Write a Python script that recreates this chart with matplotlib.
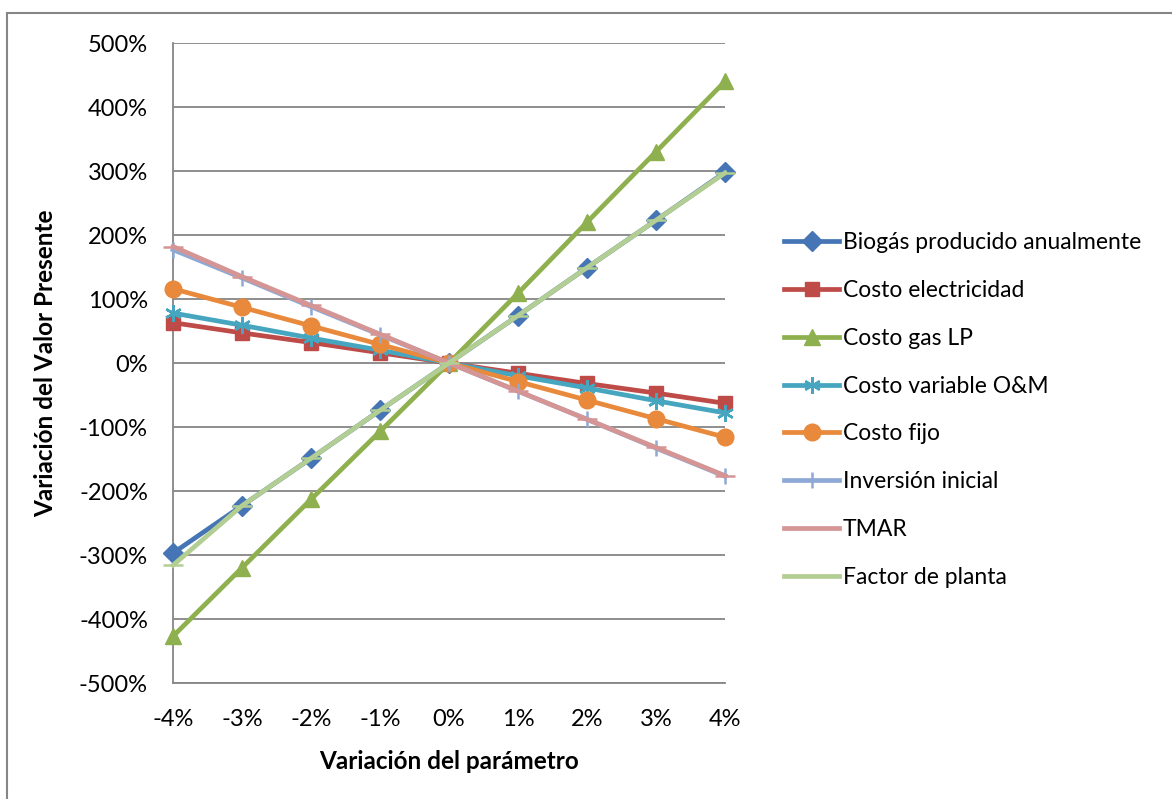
import matplotlib
matplotlib.use('Agg')
import matplotlib.pyplot as plt
from matplotlib.patches import Rectangle
from matplotlib.ticker import FuncFormatter

# variación del parámetro (%)
params = [-4, -3, -2, -1, 0, 1, 2, 3, 4]
param_labels = ['-4%', '-3%', '-2%', '-1%', '0%', '1%', '2%', '3%', '4%']

# variación del valor presente (%)
biogas = [-297, -223, -149, -74, 0, 74, 149, 223, 298]
electricidad = [63, 47, 32, 16, 0, -16, -32, -47, -63]
gas_lp = [-427, -320, -213, -107, 0, 109, 220, 330, 440]
variable_om = [78, 59, 39, 20, 0, -20, -39, -59, -78]
costo_fijo = [116, 87, 58, 29, 0, -29, -58, -87, -116]
inversion = [177, 133, 88, 44, 0, -44, -88, -133, -177]
tmar = [182, 135, 90, 45, 0, -44, -88, -132, -176]
factor_planta = [-316, -223, -149, -74, 0, 74, 149, 223, 297]

series = [
	('Biogás producido anualmente', biogas, '#4675B5', 'D', 10),
	('Costo electricidad', electricidad, '#BE4B48', 's', 10),
	('Costo gas LP', gas_lp, '#8FB04F', '^', 12),
	('Costo variable O&M', variable_om, '#46A5BF', (6, 2, 0), 12),
	('Costo fijo', costo_fijo, '#E8893C', 'o', 12),
	('Inversión inicial', inversion, '#8EA9D5', '|', 12),
	('TMAR', tmar, '#D69595', '_', 14),
	('Factor de planta', factor_planta, '#B3CE93', '_', 14),
]

plt.rcParams['font.family'] = ['Lato', 'DejaVu Sans']

fig = plt.figure(figsize=(11.72, 7.99), dpi=100)
fig.patches.append(Rectangle((7 / 1172, -0.2), 1.2, 1.2 - 13 / 799, transform=fig.transFigure,
							 fill=False, edgecolor='#868686', lw=1.5))
ax = fig.add_axes([173 / 1172, 1 - 683 / 799, (725 - 173) / 1172, (683 - 43) / 799])

handles = []
for name, ys, color, marker, ms in series:
	mew = 1.8 if marker in ((6, 2, 0), '|', '_') else 1
	h, = ax.plot(params, ys, color=color, lw=3.4, marker=marker, markersize=ms,
				 markeredgewidth=mew, markerfacecolor=color, markeredgecolor=color,
				 label=name, clip_on=False, zorder=3)
	handles.append(h)

ax.set_xlim(-4, 4)
ax.set_ylim(-500, 500)
ax.set_xticks(params)
ax.set_xticklabels(param_labels)
ax.set_yticks(range(-500, 501, 100))
ax.yaxis.set_major_formatter(FuncFormatter(lambda v, p: f'{int(v)}%'))
ax.grid(axis='y', color='#868686', lw=1.3)
ax.set_axisbelow(True)
for side in ('top', 'right'):
	ax.spines[side].set_visible(False)
for side in ('left', 'bottom'):
	ax.spines[side].set_color('#868686')
	ax.spines[side].set_linewidth(1.3)
ax.tick_params(axis='both', length=0, labelsize=17, colors='black')
ax.tick_params(axis='x', pad=19)
ax.tick_params(axis='y', pad=18)

ax.set_xlabel('Variación del parámetro', fontsize=17.5, fontweight='bold', labelpad=14)
ax.set_ylabel('Variación del Valor Presente', fontsize=17.5, fontweight='bold', labelpad=16)

fig.legend(handles=handles, loc='upper left', bbox_to_anchor=(775 / 1172, 1 - 223 / 799),
		   frameon=False, fontsize=16.5, handlelength=2.4, handletextpad=0.15,
		   labelspacing=1.17, borderaxespad=0)

fig.savefig('out.png', dpi=100)
